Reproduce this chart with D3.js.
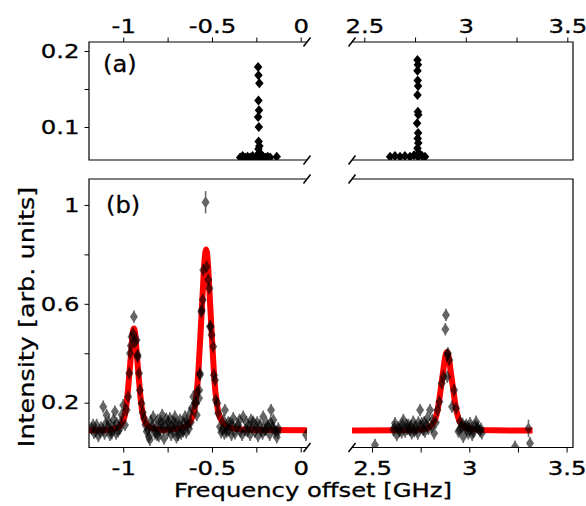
<!DOCTYPE html>
<html>
<head>
<meta charset="utf-8">
<script src="https://cdn.jsdelivr.net/npm/d3@7"></script>
<style>
body { margin: 0; background: #fff; }
text { font-family: "DejaVu Sans", sans-serif; }
</style>
</head>
<body>
<svg id="chart" width="586" height="506"></svg>
<script>
// ---- data: [GHz, value(, error)] ----
var leftTicks = [-1, -0.75, -0.5, -0.25, 0];
var leftTickLabels = ["-1", "", "-0.5", "", "0"];
var rightTicks = [2.5, 2.75, 3, 3.25, 3.5];
var rightTickLabels = ["2.5", "", "3", "", "3.5"];
var topYTicks = [0.1, 0.15, 0.2];
var topYTickLabels = ["0.1", "", "0.2"];
var bottomYTicks = [0.2, 0.4, 0.6, 0.8, 1];
var bottomYTickLabels = ["0.2", "", "0.6", "", "1"];

var topLeftPts = [[-0.341,0.06],[-0.327,0.062],[-0.313,0.06],[-0.299,0.061],[-0.285,0.06],[-0.271,0.062],
  [-0.257,0.06],[-0.245,0.063],[-0.229,0.06],[-0.215,0.062],[-0.2,0.06],[-0.186,0.061],[-0.172,0.06],
  [-0.135,0.061],[-0.24,0.179],[-0.238,0.168],[-0.233,0.1575],[-0.238,0.135],[-0.235,0.122],[-0.24,0.113],
  [-0.236,0.1],[-0.237,0.081],[-0.233,0.075],[-0.238,0.071],[-0.232,0.066],[-0.23,0.064]];
var topRightPts = [[2.627,0.061],[2.651,0.062],[2.676,0.061],[2.70,0.062],[2.725,0.061],[2.745,0.063],
  [2.765,0.061],[2.785,0.062],[2.799,0.061],[2.762,0.188],[2.764,0.182],[2.762,0.174],[2.763,0.161],
  [2.765,0.154],[2.762,0.142],[2.764,0.120],[2.766,0.116],[2.76,0.105],[2.765,0.092],[2.763,0.085],
  [2.766,0.079],[2.762,0.072],[2.768,0.066]];

var bottomLeftPts = [[-1.178,0.096],[-1.17,0.11],[-1.165,0.078],[-1.155,0.085],[-1.15,0.11],[-1.14,0.065],
  [-1.131,0.083],[-1.125,0.1],[-1.113,0.184],[-1.113,0.09],[-1.105,0.075],[-1.10,0.115],[-1.094,0.15],
  [-1.085,0.103],[-1.08,0.12],[-1.075,0.07],[-1.07,0.09],[-1.065,0.076],[-1.056,0.13],[-1.05,0.1],
  [-1.047,0.164],[-1.04,0.075],[-1.037,0.117],[-1.028,0.085],[-1.019,0.096],[-1.015,0.12],[-1.009,0.15],
  [-1.0,0.19],[-0.99,0.11],
  [-0.981,0.17],[-0.972,0.224],[-0.966,0.319],[-0.962,0.40],[-0.957,0.43],[-0.953,0.467],[-0.944,0.48],
  [-0.94,0.548],[-0.934,0.447],[-0.925,0.454],[-0.919,0.393],[-0.919,0.386],[-0.911,0.319],[-0.906,0.25],
  [-0.897,0.198],[-0.89,0.16],[-0.882,0.137],
  [-0.875,0.11],[-0.868,0.083],[-0.86,0.09],[-0.855,0.062],[-0.85,0.05],[-0.845,0.125],[-0.84,0.103],
  [-0.831,0.143],[-0.826,0.095],[-0.821,0.076],[-0.815,0.1],[-0.81,0.07],[-0.806,0.13],[-0.8,0.065],
  [-0.793,0.09],[-0.79,0.125],[-0.785,0.115],[-0.78,0.15],[-0.775,0.095],[-0.77,0.055],[-0.765,0.11],
  [-0.757,0.135],[-0.75,0.083],[-0.745,0.12],[-0.742,0.1],[-0.737,0.137],[-0.73,0.07],[-0.724,0.103],
  [-0.72,0.085],[-0.716,0.12],[-0.709,0.143],[-0.705,0.115],[-0.70,0.06],[-0.693,0.09],[-0.69,0.07],
  [-0.686,0.11],[-0.68,0.13],[-0.673,0.075],[-0.667,0.096],[-0.662,0.085],[-0.66,0.12],[-0.652,0.143],
  [-0.645,0.08],[-0.642,0.125],[-0.637,0.11],[-0.63,0.095],[-0.624,0.157],[-0.62,0.12],[-0.614,0.177],
  [-0.605,0.224],[-0.596,0.2],[-0.59,0.198],
  [-0.586,0.15],[-0.583,0.245],[-0.573,0.218],[-0.572,0.25],[-0.568,0.312],[-0.568,0.319],[-0.56,0.568],
  [-0.558,0.575],[-0.552,0.616],[-0.549,0.737],[-0.536,1.011,0.045],[-0.53,0.75],[-0.521,0.697],
  [-0.515,0.663],[-0.511,0.508],[-0.507,0.508],[-0.502,0.474],[-0.493,0.427],[-0.489,0.312],[-0.483,0.292],
  [-0.479,0.211],[-0.47,0.198],[-0.465,0.157],
  [-0.455,0.103],[-0.448,0.08],[-0.44,0.095],[-0.436,0.13],[-0.43,0.075],[-0.427,0.17],[-0.42,0.1],
  [-0.417,0.083],[-0.408,0.12],[-0.405,0.09],[-0.398,0.117],[-0.39,0.07],[-0.385,0.11],[-0.38,0.137],
  [-0.37,0.076],[-0.362,0.1],[-0.352,0.11],[-0.345,0.13],[-0.34,0.085],[-0.33,0.07],[-0.324,0.143],
  [-0.314,0.09],[-0.305,0.12],[-0.3,0.085],[-0.295,0.103],[-0.285,0.07],[-0.28,0.13],[-0.275,0.1],
  [-0.267,0.123],[-0.258,0.083],[-0.25,0.1],[-0.245,0.12],[-0.24,0.065],[-0.229,0.11],[-0.22,0.09],
  [-0.215,0.075],[-0.211,0.143],[-0.201,0.09],[-0.195,0.095],[-0.192,0.115],[-0.183,0.103],[-0.175,0.07],
  [-0.17,0.12],[-0.167,0.17],[-0.16,0.1],[-0.154,0.13],[-0.15,0.095],[-0.145,0.083],[-0.135,0.06],
  [-0.13,0.08],[-0.126,0.096],[0.03,0.07]];
var bottomRightPts = [[2.515,0.029],[2.61,0.089],[2.615,0.1],[2.618,0.117],[2.627,0.069],[2.635,0.1],
  [2.64,0.085],[2.644,0.103],[2.652,0.08],[2.657,0.11],[2.661,0.13],[2.67,0.083],[2.678,0.11],[2.683,0.095],
  [2.687,0.11],[2.695,0.09],[2.7,0.105],[2.704,0.076],[2.712,0.123],[2.717,0.085],[2.72,0.1],[2.73,0.096],
  [2.735,0.075],[2.738,0.12],[2.747,0.17],[2.75,0.1],[2.755,0.117],[2.763,0.09],[2.768,0.12],[2.772,0.083],
  [2.78,0.11],[2.784,0.137],[2.79,0.095],[2.798,0.17],[2.807,0.103],[2.81,0.13],[2.819,0.076],[2.828,0.12],
  [2.836,0.17],[2.846,0.204],[2.858,0.279],[2.867,0.305],[2.877,0.497],[2.88,0.555],[2.887,0.393],
  [2.89,0.4],[2.897,0.373],[2.887,0.305],[2.922,0.251],[2.911,0.184],[2.932,0.177],[2.944,0.083],
  [2.95,0.09],[2.952,0.123],[2.96,0.1],[2.965,0.115],[2.969,0.062],[2.978,0.103],[2.985,0.11],[2.987,0.09],
  [2.995,0.076],[3.0,0.095],[3.004,0.117],[3.012,0.095],[3.015,0.07],[3.021,0.083],[3.03,0.105],
  [3.035,0.123],[3.04,0.1],[3.047,0.096],[3.055,0.085],[3.06,0.095],[3.064,0.076],[3.235,0.022],
  [3.304,0.096,0.035],[3.312,0.036]];

// fitted curves
var fitLeft = [[-1.193,0.088],[-1.10,0.089],[-1.06,0.094],[-1.028,0.1],[-1.012,0.111],[-0.998,0.131],
  [-0.989,0.157],[-0.982,0.191],[-0.974,0.247],[-0.967,0.305],[-0.96,0.364],[-0.954,0.418],[-0.948,0.475],
  [-0.94,0.5],[-0.932,0.475],[-0.926,0.418],[-0.92,0.364],[-0.913,0.305],[-0.906,0.247],[-0.898,0.191],
  [-0.891,0.157],[-0.882,0.131],[-0.868,0.111],[-0.852,0.1],[-0.82,0.094],[-0.78,0.09],
  [-0.733,0.092],[-0.673,0.098],[-0.636,0.11],[-0.618,0.13],[-0.601,0.164],[-0.591,0.21],[-0.582,0.272],
  [-0.573,0.37],[-0.565,0.474],[-0.557,0.58],[-0.55,0.676],[-0.542,0.775],[-0.533,0.82],[-0.524,0.775],
  [-0.516,0.676],[-0.509,0.58],[-0.501,0.474],[-0.493,0.37],[-0.484,0.272],[-0.475,0.21],[-0.465,0.164],
  [-0.448,0.13],[-0.43,0.11],[-0.393,0.098],[-0.333,0.092],[-0.2,0.089],[0.0355,0.088]];
var fitRight = [[2.397,0.087],[2.65,0.088],[2.745,0.091],[2.782,0.097],[2.8,0.105],[2.817,0.12],
  [2.827,0.14],[2.836,0.167],[2.845,0.209],[2.853,0.255],[2.861,0.3],[2.868,0.341],[2.876,0.386],
  [2.885,0.405],[2.894,0.386],[2.902,0.341],[2.909,0.3],[2.917,0.255],[2.925,0.209],[2.934,0.167],
  [2.943,0.14],[2.953,0.12],[2.97,0.105],[2.988,0.097],[3.025,0.091],[3.12,0.088],[3.325,0.087]];

// ---- layout ----
var SX = 1.25;          // glyphs in the figure are wider than DejaVu
var FS = 19.5;
var LX = [89, 307], RX = [352, 573];
var TY = [42, 160], BY = [179, 447.5];

var svg = d3.select("#chart");
svg.append("rect").attr("width", 586).attr("height", 506).attr("fill", "#fff");

var xTL = d3.scaleLinear().domain([-1.193, 0.0355]).range(LX);
var xTR = d3.scaleLinear().domain([2.4394, 3.528]).range(RX);
var xBL = d3.scaleLinear().domain([-1.193, 0.0355]).range(LX);
var xBR = d3.scaleLinear().domain([2.397, 3.533]).range(RX);
var yT = d3.scaleLinear().domain([0.0566, 0.2118]).range([TY[1], TY[0]]);
var yB = d3.scaleLinear().domain([0.0187, 1.105]).range([BY[1], BY[0]]);

var defs = svg.append("defs");
function clip(id, xr, yr) {
  defs.append("clipPath").attr("id", id).append("rect")
    .attr("x", xr[0]).attr("y", yr[0]).attr("width", xr[1] - xr[0]).attr("height", yr[1] - yr[0]);
  return "url(#" + id + ")";
}

function styleAxis(g, sx) {
  g.attr("font-family", '"DejaVu Sans", sans-serif').attr("font-size", FS);
  g.select(".domain").remove();
  g.selectAll(".tick line").attr("stroke", "#000").attr("stroke-width", 1);
  g.selectAll(".tick text").attr("fill", "#000").attr("stroke", "#000").attr("stroke-width", 0.3)
    .each(function() {
      var t = d3.select(this);
      var x = +t.attr("x") || 0;
      t.attr("x", x / sx).attr("transform", "scale(" + sx + ",1)");
    });
}

function fmt(ticks, labels) {
  return function(d) { return labels[ticks.indexOf(d)]; };
}

function diamond(w, h) {
  return "M0," + (-h / 2) + "L" + (w / 2) + ",0L0," + (h / 2) + "L" + (-w / 2) + ",0Z";
}

function spines(xr, yr, side) {
  var p = side === "left"
    ? "M" + xr[1] + "," + yr[0] + "H" + xr[0] + "V" + yr[1] + "H" + xr[1]
    : "M" + xr[0] + "," + yr[0] + "H" + xr[1] + "V" + yr[1] + "H" + xr[0];
  svg.append("path").attr("d", p).attr("fill", "none").attr("stroke", "#000").attr("stroke-width", 1.2);
}

function breakMark(x, y) {
  svg.append("line").attr("x1", x - 3.5).attr("y1", y + 4.5).attr("x2", x + 3.5).attr("y2", y - 4.5)
    .attr("stroke", "#000").attr("stroke-width", 1.5);
}

// ---- top panel (a) ----
[[xTL, topLeftPts, LX, "cTL"], [xTR, topRightPts, RX, "cTR"]].forEach(function(p) {
  var x = p[0];
  svg.append("g").attr("clip-path", clip(p[3], p[2], TY))
    .selectAll("path").data(p[1]).enter().append("path")
    .attr("d", diamond(8.5, 10))
    .attr("transform", function(d) { return "translate(" + x(d[0]) + "," + yT(d[1]) + ")"; })
    .attr("fill", "#000");
});
spines(LX, TY, "left");
spines(RX, TY, "right");

svg.append("g").attr("transform", "translate(0," + TY[0] + ")")
  .call(d3.axisTop(xTL).tickValues(leftTicks).tickSize(4.5).tickPadding(4.5).tickFormat(fmt(leftTicks, leftTickLabels)))
  .call(styleAxis, SX);
svg.append("g").attr("transform", "translate(0," + TY[0] + ")")
  .call(d3.axisTop(xTR).tickValues(rightTicks).tickSize(4.5).tickPadding(4.5).tickFormat(fmt(rightTicks, rightTickLabels)))
  .call(styleAxis, SX);
svg.append("g").attr("transform", "translate(" + LX[0] + ",0)")
  .call(d3.axisLeft(yT).tickValues(topYTicks).tickSize(4.5).tickPadding(5).tickFormat(fmt(topYTicks, topYTickLabels)))
  .call(styleAxis, SX);

// ---- bottom panel (b) ----
var line = function(x) {
  return d3.line().x(function(d) { return x(d[0]); }).y(function(d) { return yB(d[1]); }).curve(d3.curveMonotoneX);
};
[[xBL, bottomLeftPts, fitLeft, LX, "cBL"], [xBR, bottomRightPts, fitRight, RX, "cBR"]].forEach(function(p) {
  var x = p[0];
  var g = svg.append("g").attr("clip-path", clip(p[4], p[3], BY));
  g.append("path").datum(p[2]).attr("d", line(x))
    .attr("fill", "none").attr("stroke", "#ff0000").attr("stroke-width", 6);
  var pts = g.selectAll("g.pt").data(p[1]).enter().append("g").attr("class", "pt")
    .attr("transform", function(d) { return "translate(" + x(d[0]) + "," + yB(d[1]) + ")"; })
    .attr("opacity", 0.6);
  pts.append("line")
    .attr("y1", function(d) { return yB(d[1] - (d[2] || 0.025)) - yB(d[1]); })
    .attr("y2", function(d) { return yB(d[1] + (d[2] || 0.025)) - yB(d[1]); })
    .attr("stroke", "#000").attr("stroke-width", 1.5);
  pts.append("path").attr("d", diamond(8, 12)).attr("fill", "#000");
});
spines(LX, BY, "left");
spines(RX, BY, "right");

svg.append("g").attr("transform", "translate(0," + BY[1] + ")")
  .call(d3.axisBottom(xBL).tickValues(leftTicks).tickSize(5).tickPadding(9).tickFormat(fmt(leftTicks, leftTickLabels)))
  .call(styleAxis, SX);
svg.append("g").attr("transform", "translate(0," + BY[1] + ")")
  .call(d3.axisBottom(xBR).tickValues(rightTicks).tickSize(5).tickPadding(9).tickFormat(fmt(rightTicks, rightTickLabels)))
  .call(styleAxis, SX);
svg.append("g").attr("transform", "translate(" + LX[0] + ",0)")
  .call(d3.axisLeft(yB).tickValues(bottomYTicks).tickSize(4.5).tickPadding(5).tickFormat(fmt(bottomYTicks, bottomYTickLabels)))
  .call(styleAxis, SX);

// broken-axis marks
[TY[0], TY[1], BY[0], BY[1]].forEach(function(y) {
  breakMark(LX[1], y);
  breakMark(RX[0], y);
});

// ---- labels ----
function label(x, y, text, size, sx) {
  svg.append("text")
    .attr("transform", "translate(" + x + "," + y + ") scale(" + sx + ",1)")
    .attr("font-size", size).attr("fill", "#000").attr("stroke", "#000").attr("stroke-width", 0.3)
    .text(text);
}
label(103, 72, "(a)", 23, 1.05);
label(106, 213, "(b)", 23, 1.05);

svg.append("text").attr("transform", "translate(313,496.5) scale(1.245,1)")
  .attr("text-anchor", "middle").attr("font-size", FS).attr("fill", "#000")
  .attr("stroke", "#000").attr("stroke-width", 0.3)
  .text("Frequency offset [GHz]");
svg.append("text").attr("transform", "translate(33.5,317) rotate(-90) scale(1.16,1)")
  .attr("text-anchor", "middle").attr("font-size", 22).attr("fill", "#000")
  .attr("stroke", "#000").attr("stroke-width", 0.3)
  .text("Intensity [arb. units]");
</script>
</body>
</html>
